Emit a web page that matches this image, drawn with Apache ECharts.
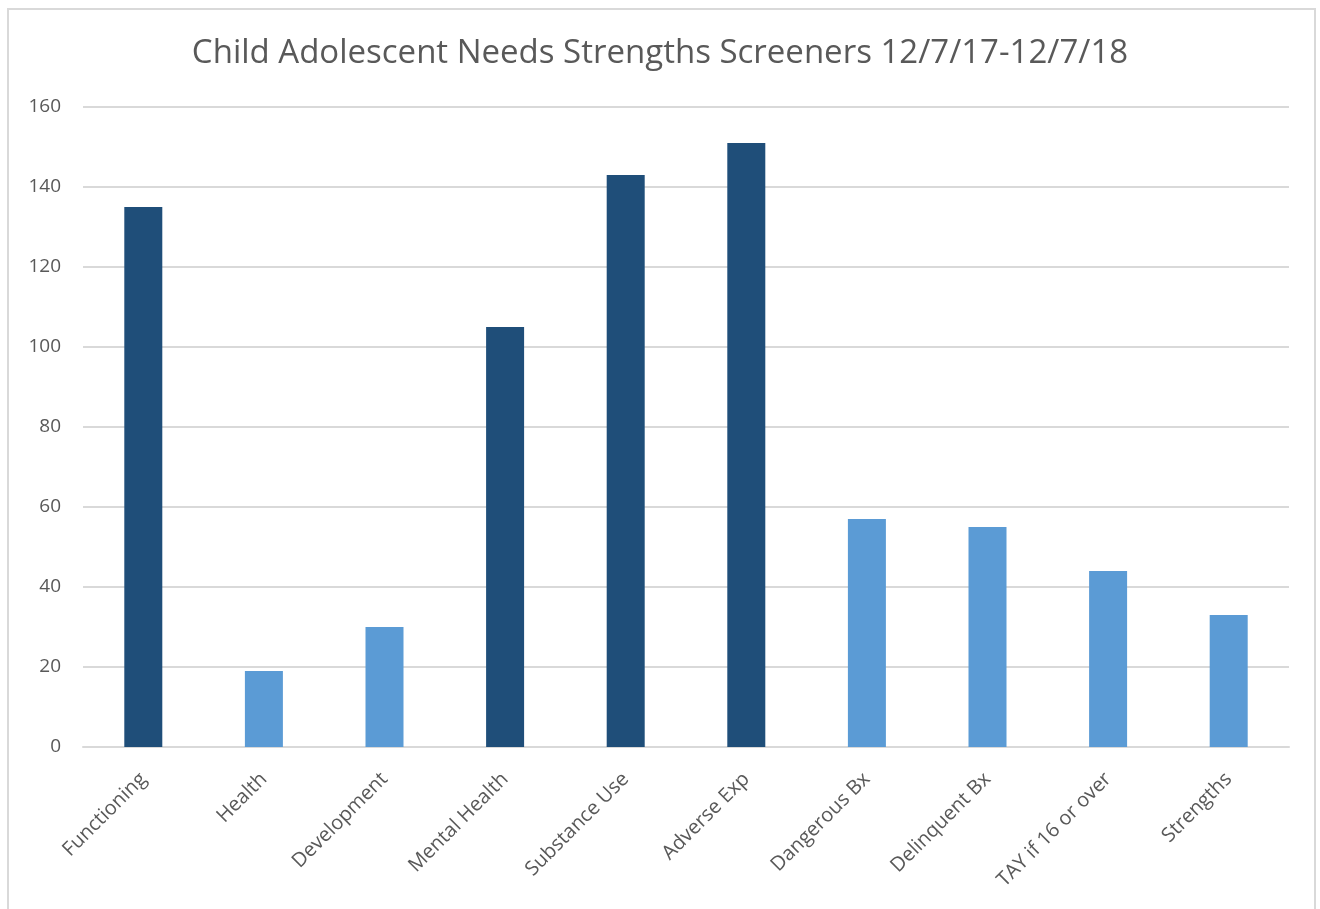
<!DOCTYPE html>
<html>
<head>
<meta charset="utf-8">
<script src="https://cdn.jsdelivr.net/npm/echarts@6/dist/echarts.min.js"></script>
<style>
  html, body { margin: 0; padding: 0; background: #fff; }
  #frame {
    position: absolute; left: 7px; top: 8px; width: 1309px; height: 920px;
    border: 2px solid #d9d9d9; box-sizing: border-box;
  }
  #main { position: absolute; left: 0; top: 0; width: 1320px; height: 909px; }
</style>
</head>
<body>
<div id="frame"></div>
<div id="main"></div>
<script>
// categories and values
const categories = ['Functioning', 'Health', 'Development', 'Mental Health', 'Substance Use',
  'Adverse Exp', 'Dangerous Bx', 'Delinquent Bx', 'TAY if 16 or over', 'Strengths']
const counts = [135, 19, 30, 105, 143, 151, 57, 55, 44, 33]
// which shade each bar uses
const shade = ['dark', 'light', 'light', 'dark', 'dark', 'dark', 'light', 'light', 'light', 'light']
const yTicks = [0, 20, 40, 60, 80, 100, 120, 140, 160]

const colors = { dark: '#1F4E79', light: '#5B9BD5' }
const font = '"Open Sans", "Liberation Sans", sans-serif'

const chart = echarts.init(document.getElementById('main'))
chart.setOption({
  animation: false,
  title: {
    text: 'Child Adolescent Needs Strengths Screeners 12/7/17-12/7/18',
    left: 'center',
    top: 32,
    textStyle: { fontFamily: font, fontSize: 33, fontWeight: 'normal', color: '#595959' }
  },
  grid: { left: 83, right: 31, top: 107, bottom: 162 },
  xAxis: {
    type: 'category',
    data: categories,
    axisLine: { lineStyle: { color: '#d9d9d9', width: 2 } },
    axisTick: { show: false },
    axisLabel: { rotate: 45, margin: 29, fontFamily: font, fontSize: 20, color: '#595959', interval: 0 }
  },
  yAxis: {
    type: 'value',
    min: yTicks[0],
    max: yTicks[yTicks.length - 1],
    interval: 20,
    axisLine: { show: false },
    axisTick: { show: false },
    splitLine: { lineStyle: { color: '#d9d9d9', width: 2 } },
    axisLabel: { margin: 22, fontFamily: font, fontSize: 19, color: '#595959' }
  },
  series: [{
    type: 'bar',
    barWidth: 38,
    data: counts.map((v, i) => ({ value: v, itemStyle: { color: colors[shade[i]] } }))
  }]
})
</script>
</body>
</html>
